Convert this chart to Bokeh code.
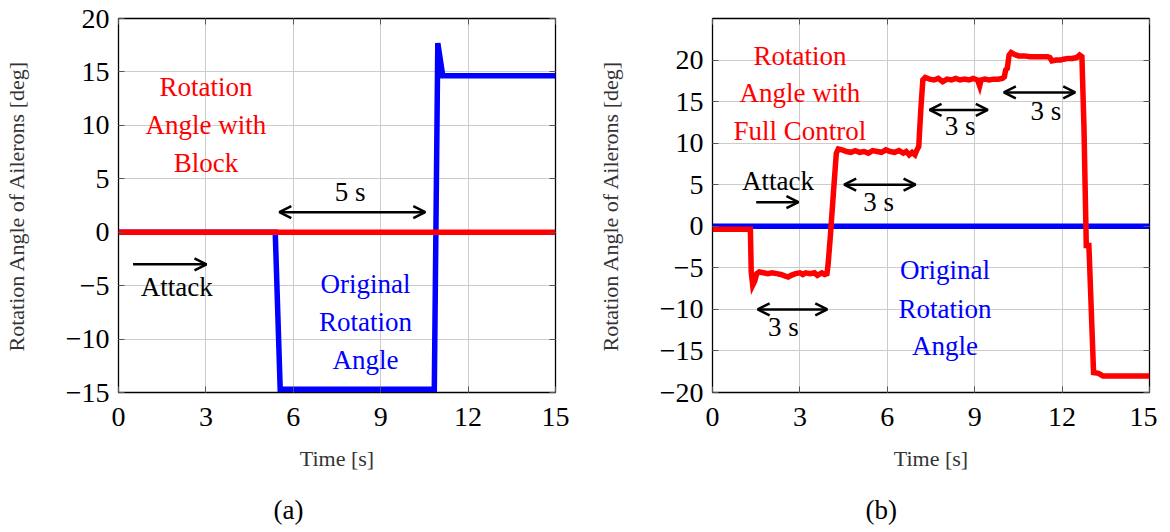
from bokeh.plotting import figure
from bokeh.layouts import row
from bokeh.models import (ColumnDataSource, Arrow, OpenHead, Title, LinearAxis,
                          FixedTicker, CustomJSTickFormatter, Range1d)
from bokeh.embed import file_html
from bokeh.resources import INLINE
from bokeh.core.properties import value

# ---------------- data ----------------
x_ticks = [0, 3, 6, 9, 12, 15]
y_ticks_a = [-15, -10, -5, 0, 5, 10, 15, 20]
y_ticks_b = [-20, -15, -10, -5, 0, 5, 10, 15, 20]

# Panel (a): blocked ailerons vs original command
time_a_block = [0, 15]
angle_a_block = [0, 0]
time_a_orig = [0, 5.38, 5.55, 10.84, 10.96, 11.1, 11.13, 15]
angle_a_orig = [0, 0, -14.7, -14.7, 17.7, 15.2, 14.65, 14.65]

# Panel (b): full control vs original command
time_b_orig = [0, 15]
angle_b_orig = [0, 0]
time_b_full = [0, 1.30, 1.33, 1.38, 1.45, 1.52, 1.6, 1.75, 1.9, 2.05, 2.2, 2.35,
               2.5, 2.6, 2.7, 2.85, 3.0, 3.1, 3.2, 3.35, 3.5, 3.6, 3.75, 3.85,
               3.93, 3.97, 4.05, 4.15, 4.25, 4.32, 4.45, 4.6, 4.75, 4.9, 5.05,
               5.2, 5.35, 5.5, 5.65, 5.8, 5.95, 6.1, 6.25, 6.4, 6.55, 6.65,
               6.75, 6.85, 6.95, 7.02, 7.08, 7.15, 7.22, 7.3, 7.45, 7.6, 7.75,
               7.9, 8.05, 8.2, 8.35, 8.5, 8.65, 8.8, 8.95, 9.1, 9.17, 9.22,
               9.35, 9.5, 9.65, 9.8, 9.95, 10.02, 10.06, 10.12, 10.18, 10.25,
               10.35, 10.5, 10.7, 10.9, 11.1, 11.3, 11.5, 11.58, 11.65, 11.8,
               11.95, 12.05, 12.2, 12.35, 12.5, 12.6, 12.68, 12.75, 12.83,
               12.92, 12.98, 13.08, 13.25, 13.4, 15]
angle_b_full = [-0.35, -0.35, -5.5, -7.1, -6.6, -5.7, -5.5, -5.6, -5.7, -5.6,
                -5.7, -5.8, -6.0, -6.1, -5.9, -5.7, -5.6, -5.8, -5.6, -5.7,
                -5.6, -5.9, -5.6, -5.8, -5.7, -4.5, -1.0, 4.0, 8.8, 9.3, 9.2,
                9.0, 8.9, 9.1, 8.9, 9.0, 8.8, 9.1, 9.0, 8.9, 9.2, 9.0, 8.9,
                9.1, 8.8, 9.0, 8.6, 8.9, 8.6, 9.2, 9.6, 14.0, 17.6, 17.9, 17.7,
                17.6, 17.8, 17.4, 17.7, 17.6, 17.8, 17.6, 17.7, 17.6, 17.8,
                17.6, 16.9, 17.6, 17.7, 17.6, 17.7, 17.7, 17.8, 18.0, 18.8,
                19.0, 20.6, 20.9, 20.7, 20.5, 20.5, 20.4, 20.4, 20.4, 20.4,
                20.3, 19.9, 20.0, 20.0, 20.1, 20.2, 20.2, 20.3, 20.6, 20.4,
                12.0, -2.3, -2.3, -8.0, -17.6, -17.7, -18.0, -18.0]

# annotations (data coordinates)
labels_a_x = [3.0, 3.0, 3.0, 8.48, 8.48, 8.48, 7.95, 2.0]
labels_a_y = [13.6, 10.0, 6.5, -4.85, -8.4, -11.95, 3.8, -5.1]
labels_a_text = ["Rotation", "Angle with", "Block", "Original", "Rotation",
                 "Angle", "5 s", "Attack"]
labels_a_color = ["#ff0000"] * 3 + ["#0000ff"] * 3 + ["black"] * 2

arrows_a_double = dict(x0=[5.52], y0=[1.87], x1=[10.53], y1=[1.87])
arrows_a_single = dict(x0=[0.5], y0=[-3.0], x1=[3.02], y1=[-3.0])

labels_b_x = [3.0, 3.0, 3.0, 7.98, 7.98, 7.98, 2.25, 2.43, 5.7, 8.5, 11.44]
labels_b_y = [20.5, 16.0, 11.5, -5.3, -10.0, -14.4, 5.4, -12.1, 2.9, 12.1, 13.9]
labels_b_text = ["Rotation", "Angle with", "Full Control", "Original",
                 "Rotation", "Angle", "Attack", "3 s", "3 s", "3 s", "3 s"]
labels_b_color = ["#ff0000"] * 3 + ["#0000ff"] * 3 + ["black"] * 5

arrows_b_double = dict(x0=[1.55, 4.52, 7.45, 10.0], y0=[-10.0, 5.0, 14.0, 16.1],
                       x1=[3.94, 6.97, 9.45, 12.45], y1=[-10.0, 5.0, 14.0, 16.1])
arrows_b_single = dict(x0=[1.5], y0=[2.9], x1=[2.95], y1=[2.9])

FONT = "Liberation Serif"
minus_fmt = "return tick < 0 ? '\\u2212' + (-tick) : '' + tick;"


def make_panel(y_lo, y_hi, y_ticks, border_left, border_right, ylab_standoff,
               caption, caption_offset):
    p = figure(frame_width=437, frame_height=374,
               x_range=Range1d(0, 15), y_range=Range1d(y_lo, y_hi),
               output_backend="svg", toolbar_location=None,
               min_border_left=border_left, min_border_right=border_right,
               min_border_top=18, min_border_bottom=10,
               background_fill_color="white", border_fill_color="white")
    p.outline_line_color = "black"
    p.outline_line_width = 1.3
    p.outline_line_alpha = 1.0
    p.xaxis.ticker = FixedTicker(ticks=x_ticks)
    p.yaxis.ticker = FixedTicker(ticks=y_ticks)
    p.xgrid.ticker = FixedTicker(ticks=x_ticks)
    p.ygrid.ticker = FixedTicker(ticks=y_ticks)
    p.grid.grid_line_color = "#cccccc"
    p.grid.grid_line_width = 1
    for ax in (p.xaxis[0], p.yaxis[0]):
        ax.formatter = CustomJSTickFormatter(code=minus_fmt)
        ax.axis_line_color = None
        ax.major_tick_in = 6
        ax.major_tick_out = 0
        ax.major_tick_line_color = "#555555"
        ax.minor_tick_line_color = None
        ax.major_label_text_font = FONT
        ax.major_label_text_font_size = "28px"
        ax.major_label_text_color = "black"
        ax.axis_label_text_font = FONT
        ax.axis_label_text_font_size = "22px"
        ax.axis_label_text_font_style = "normal"
        ax.axis_label_text_color = "#333333"
    p.xaxis.axis_label = "Time [s]"
    p.yaxis.axis_label = "Rotation Angle of Ailerons [deg]"
    p.xaxis.major_label_standoff = 15
    p.xaxis.axis_label_standoff = 17
    p.yaxis.major_label_standoff = 9
    p.yaxis.axis_label_standoff = ylab_standoff
    # mirrored ticks on top and right
    for loc, tk in (("right", y_ticks), ("above", x_ticks)):
        ax = LinearAxis(ticker=FixedTicker(ticks=tk),
                        formatter=CustomJSTickFormatter(code="return '';"),
                        major_label_text_font_size="0px", major_label_standoff=0,
                        major_tick_in=6, major_tick_out=0,
                        major_tick_line_color="#555555",
                        minor_tick_line_color=None, axis_line_color=None)
        p.add_layout(ax, loc)
    # sub-figure caption below the axis title
    p.add_layout(Title(text=caption, align="left", offset=caption_offset,
                       text_font=FONT, text_font_size="27px",
                       text_font_style="normal", text_color="black",
                       standoff=38), "below")
    return p


def add_texts(p, xs, ys, texts, colors):
    src = ColumnDataSource(dict(x=xs, y=ys, text=texts, color=colors))
    p.text(x="x", y="y", text="text", source=src, text_color="color",
           text_font=value(FONT), text_font_size="27px",
           text_align="center", text_baseline="middle")


def add_arrows(p, d, double):
    src = ColumnDataSource(d)
    head = dict(size=12, line_width=2.5, line_color="black")
    arr = Arrow(source=src, x_start="x0", y_start="y0", x_end="x1", y_end="y1",
                line_width=2.5, line_color="black",
                end=OpenHead(**head), start=OpenHead(**head) if double else None)
    p.add_layout(arr)


# ---------- panel (a) ----------
pa = make_panel(-15, 20, y_ticks_a, 112, 23, 34, "(a)", 155)
pa.line(time_a_orig, angle_a_orig, line_color="#0000ff", line_width=5.5,
        line_join="miter")
pa.line(time_a_block, angle_a_block, line_color="#ff0000", line_width=5.5)
add_texts(pa, labels_a_x, labels_a_y, labels_a_text, labels_a_color)
add_arrows(pa, arrows_a_double, True)
add_arrows(pa, arrows_a_single, False)

# ---------- panel (b) ----------
pb = make_panel(-20, 25, y_ticks_b, 134, 8, 34, "(b)", 153)
pb.line(time_b_orig, angle_b_orig, line_color="#0000ff", line_width=5.5)
pb.line(time_b_full, angle_b_full, line_color="#ff0000", line_width=5.5,
        line_join="miter")
add_texts(pb, labels_b_x, labels_b_y, labels_b_text, labels_b_color)
add_arrows(pb, arrows_b_double, True)
add_arrows(pb, arrows_b_single, False)

layout = row(pa, pb)
open("out.html", "w").write(file_html(layout, INLINE))
